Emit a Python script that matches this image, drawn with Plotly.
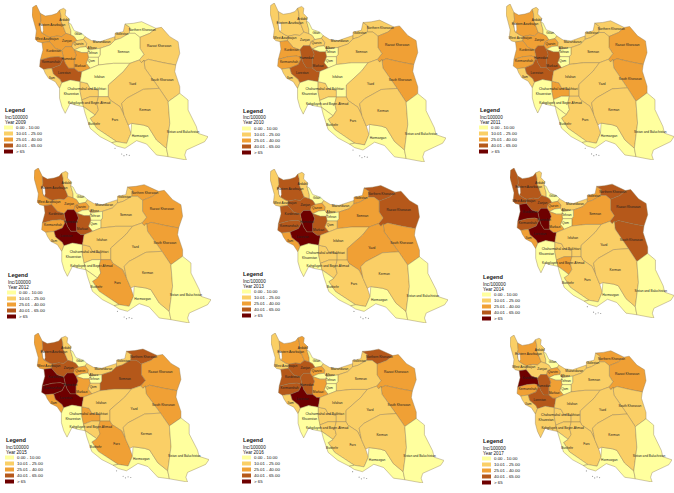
import plotly.graph_objects as go

W, H = 674, 493
YEARS = [2009, 2010, 2011, 2012, 2013, 2014, 2015, 2016, 2017]
BINS = [10, 25, 40, 65]
CLASS_LABELS = ["0.00 - 10.00", "10.01 - 25.00", "25.01 - 40.00", "40.01 - 65.00", "> 65"]
COLORS = ["#FFFF9E", "#FACF66", "#F0A035", "#B5581A", "#6E0000"]

PROVINCES = ["West Azarbaijan", "Eastern Azarbaijan", "Ardabil", "Gilan", "Zanjan", "Qazvin",
             "Mazandaran", "Golestan", "Northern Khorasan", "Razavi Khorasan", "South Khorasan",
             "Semnan", "Tehran", "Alborz", "Qom", "Markazi", "Hamedan", "Kurdestan", "Kermanshah",
             "Ilam", "Lorestan", "Khuzestan", "Chaharmahal and Bakhtiari",
             "Kohgiluyeh and Boyer-Ahmad", "Isfahan", "Yazd", "Fars", "Bushehr", "Hormozgan",
             "Kerman", "Sistan and Baluchistan"]

# estimated incidence per 100000, read from each province's colour class, same order as PROVINCES
inc_2009 = [32, 33, 20, 5, 30, 20, 20, 18, 8, 20, 18, 7, 4, 5, 6, 32, 34, 30, 50, 18, 52, 6, 20, 20, 7, 19, 18, 6, 5, 20, 3]
inc_2010 = [20, 22, 20, 6, 22, 20, 18, 18, 18, 32, 34, 18, 5, 6, 7, 45, 45, 30, 36, 18, 44, 6, 18, 8, 8, 18, 17, 6, 5, 18, 3]
inc_2011 = [22, 33, 20, 6, 32, 30, 18, 18, 18, 32, 34, 18, 5, 6, 7, 48, 55, 32, 30, 20, 55, 7, 30, 8, 18, 18, 17, 7, 5, 18, 3]
inc_2012 = [32, 50, 20, 6, 35, 30, 20, 20, 30, 35, 36, 20, 5, 6, 7, 50, 75, 50, 32, 20, 72, 7, 20, 8, 20, 20, 32, 7, 5, 20, 3]
inc_2013 = [22, 55, 22, 6, 50, 32, 20, 30, 50, 55, 35, 30, 5, 6, 15, 50, 80, 55, 50, 30, 78, 7, 20, 20, 20, 30, 20, 7, 5, 20, 3]
inc_2014 = [45, 55, 20, 6, 45, 32, 20, 30, 55, 60, 50, 30, 5, 6, 7, 35, 85, 70, 50, 30, 80, 7, 20, 30, 20, 20, 20, 7, 5, 20, 3]
inc_2015 = [35, 55, 20, 6, 50, 32, 20, 22, 55, 36, 36, 55, 5, 6, 18, 35, 90, 85, 80, 30, 82, 7, 32, 20, 20, 20, 35, 7, 5, 20, 3]
inc_2016 = [20, 32, 30, 6, 50, 32, 20, 20, 55, 35, 36, 20, 5, 6, 7, 33, 55, 55, 50, 20, 75, 7, 20, 20, 20, 20, 20, 7, 5, 20, 3]
inc_2017 = [20, 32, 20, 6, 22, 30, 18, 18, 30, 35, 20, 20, 5, 6, 7, 32, 55, 80, 32, 18, 50, 15, 20, 20, 20, 20, 20, 7, 5, 20, 3]
INC = [inc_2009, inc_2010, inc_2011, inc_2012, inc_2013, inc_2014, inc_2015, inc_2016, inc_2017]

# province outlines (map units), sketched from the reference
SHAPES = {
 "West Azarbaijan": [(97,22),(108,15),(120,40),(122,62),(118,72),(124,98),(140,108),(150,112),(148,125),(125,128),(112,125),(105,118),(108,92),(100,65),(95,45)],
 "Eastern Azarbaijan": [(120,40),(135,48),(155,45),(170,40),(178,30),(182,45),(183,65),(190,80),(197,100),(185,110),(170,108),(150,112),(140,108),(124,98),(118,72),(122,62)],
 "Ardabil": [(178,30),(190,25),(197,30),(195,45),(208,58),(205,68),(212,92),(212,105),(197,100),(190,80),(183,65),(182,45)],
 "Gilan": [(205,68),(212,72),(222,92),(245,100),(255,110),(250,118),(230,122),(222,110),(212,105),(212,92)],
 "Zanjan": [(150,112),(170,108),(185,110),(197,100),(212,105),(222,110),(230,122),(218,128),(215,140),(195,140),(185,152),(165,145),(148,125)],
 "Qazvin": [(218,128),(230,122),(250,118),(260,130),(258,140),(240,142),(222,150),(215,140)],
 "Mazandaran": [(250,118),(255,110),(275,122),(300,125),(345,110),(345,120),(330,135),(300,145),(265,150),(258,140),(260,130)],
 "Golestan": [(345,100),(370,95),(375,72),(390,82),(388,100),(362,115),(345,120),(345,110)],
 "Northern Khorasan": [(375,72),(400,70),(425,65),(468,85),(450,100),(420,112),(405,100),(388,100),(390,82)],
 "Razavi Khorasan": [(420,112),(450,100),(468,85),(485,82),(510,110),(535,125),(540,160),(528,195),(490,188),(445,178),(425,188),(418,180),(432,163),(420,145)],
 "South Khorasan": [(425,188),(445,178),(490,188),(528,195),(525,215),(540,260),(540,280),(505,305),(478,265),(460,240),(435,205),(432,180)],
 "Semnan": [(300,145),(330,135),(345,120),(362,115),(388,100),(405,100),(420,112),(420,145),(432,163),(418,180),(390,190),(340,190),(295,195),(295,172),(300,165)],
 "Tehran": [(265,150),(300,145),(300,165),(295,172),(265,172),(262,158)],
 "Alborz": [(240,142),(258,140),(265,150),(262,158),(245,158),(222,150)],
 "Qom": [(265,172),(295,172),(295,195),(270,205),(258,190)],
 "Markazi": [(222,150),(245,158),(262,158),(265,172),(258,190),(270,205),(245,215),(235,215),(222,205),(222,180),(228,165)],
 "Hamedan": [(185,152),(195,140),(215,140),(222,150),(228,165),(222,180),(222,205),(205,205),(195,190),(190,175)],
 "Kurdestan": [(125,128),(148,125),(165,145),(185,152),(190,175),(175,170),(150,172),(130,178),(120,180),(128,150)],
 "Kermanshah": [(120,180),(130,178),(150,172),(175,170),(190,175),(180,195),(155,205),(130,208),(118,200)],
 "Ilam": [(130,208),(155,205),(160,222),(180,238),(185,248),(178,265),(165,245),(145,235),(135,220)],
 "Lorestan": [(155,205),(180,195),(190,175),(195,190),(205,205),(222,205),(235,215),(245,215),(240,245),(210,240),(185,248),(180,238),(160,222)],
 "Isfahan": [(245,215),(270,205),(295,195),(340,190),(390,190),(370,215),(325,255),(325,290),(295,290),(295,270),(270,265),(262,250),(240,245)],
 "Yazd": [(390,190),(418,180),(425,188),(432,180),(435,205),(460,240),(478,265),(430,268),(380,295),(365,310),(372,345),(360,320),(330,300),(325,290),(325,255),(370,215)],
 "Kerman": [(380,295),(430,268),(478,265),(505,305),(510,370),(500,445),(470,420),(445,380),(430,375),(395,370),(385,375),(372,345),(365,310)],
 "Fars": [(295,290),(325,290),(330,300),(360,320),(372,345),(385,375),(393,400),(380,430),(350,425),(320,405),(290,385),(270,355),(285,345),(295,330),(290,310)],
 "Kohgiluyeh and Boyer-Ahmad": [(245,300),(270,290),(295,290),(290,310),(295,330),(285,345),(265,330),(250,320)],
 "Chaharmahal and Bakhtiari": [(240,245),(262,250),(270,265),(295,270),(295,290),(270,290),(245,300),(240,275)],
 "Khuzestan": [(178,265),(185,248),(210,240),(240,245),(240,275),(245,300),(250,320),(225,315),(210,310),(195,340),(185,320),(178,295)],
 "Bushehr": [(250,320),(265,330),(285,345),(270,355),(290,385),(320,405),(350,425),(335,428),(300,410),(270,385),(262,362),(255,340)],
 "Hormozgan": [(335,428),(350,425),(380,430),(393,400),(395,370),(430,375),(445,380),(470,420),(500,445),(505,470),(470,465),(440,432),(410,422),(375,445),(350,438)],
 "Sistan and Baluchistan": [(505,305),(540,280),(565,300),(565,330),(590,380),(595,400),(625,410),(615,425),(560,450),(555,465),(560,480),(505,470),(500,445),(510,370)],
}
LAKE = [(123,70),(128,74),(129,92),(126,100),(122,92),(120,76)]
ISLANDS_X = [365, 372, 380, 388, 345]
ISLANDS_Y = [462, 467, 464, 466, 445]

LABEL_POS = {
 "West Azarbaijan": (140,118), "Eastern Azarbaijan": (155,75), "Ardabil": (192,62), "Gilan": (234,102),
 "Zanjan": (200,124), "Qazvin": (235,134), "Mazandaran": (305,128), "Golestan": (366,103),
 "Northern Khorasan": (427,90), "Razavi Khorasan": (478,138), "South Khorasan": (487,240), "Semnan": (370,158),
 "Tehran": (278,160), "Alborz": (276,146), "Qom": (274,185), "Markazi": (240,200), "Hamedan": (205,177),
 "Kurdestan": (160,153), "Kermanshah": (152,187), "Ilam": (155,234), "Lorestan": (192,220), "Khuzestan": (213,283),
 "Chaharmahal and Bakhtiari": (260,268), "Kohgiluyeh and Boyer-Ahmad": (267,310), "Isfahan": (298,233),
 "Yazd": (398,253), "Fars": (345,362), "Bushehr": (282,372), "Hormozgan": (420,410), "Kerman": (435,332),
 "Sistan and Baluchistan": (550,398),
}

# map box (left, right, top, bottom px) and legend anchor (x, y px) per panel
BOXES = [(32,208,5,160),(270,446,3,162),(506,674,4,160),
         (34,211,168,323),(270,448,169,323),(510,674,168,318),
         (34,209,333,482),(271,444,333,483),(510,672,335,482)]
LEGENDS = [(4,110),(242,111),(479,110),(7,275),(242,274),(482,277),(5,440),(242,440),(482,441)]
X_RANGE = [95, 625]
Y_RANGE = [480, 15]
BORDER = "#8a7650"


def klass(v):
    return sum(v > b for b in BINS)


fig = go.Figure()
layout = dict(width=W, height=H, margin=dict(l=0, r=0, t=0, b=0), autosize=False,
              paper_bgcolor="white", plot_bgcolor="white", showlegend=False,
              hovermode=False, font=dict(family="Liberation Sans, Arial, sans-serif", color="#111"))
annotations, shapes = [], []

for i, (year, values, box, leg) in enumerate(zip(YEARS, INC, BOXES, LEGENDS)):
    n = "" if i == 0 else str(i + 1)
    xa, ya = "x" + n, "y" + n
    layout["xaxis" + n] = dict(domain=[box[0] / W, box[1] / W], range=X_RANGE, visible=False, fixedrange=True)
    layout["yaxis" + n] = dict(domain=[1 - box[3] / H, 1 - box[2] / H], range=Y_RANGE, visible=False, fixedrange=True)
    for name, v in zip(PROVINCES, values):
        pts = SHAPES[name] + [SHAPES[name][0]]
        fig.add_trace(go.Scatter(x=[p[0] for p in pts], y=[p[1] for p in pts], mode="lines", fill="toself",
                                 fillcolor=COLORS[klass(v)], line=dict(color=BORDER, width=0.4),
                                 xaxis=xa, yaxis=ya, hoverinfo="skip"))
    lk = LAKE + [LAKE[0]]
    fig.add_trace(go.Scatter(x=[p[0] for p in lk], y=[p[1] for p in lk], mode="lines", fill="toself",
                             fillcolor="white", line=dict(color=BORDER, width=0.3), xaxis=xa, yaxis=ya, hoverinfo="skip"))
    fig.add_trace(go.Scatter(x=ISLANDS_X, y=ISLANDS_Y, mode="markers", marker=dict(size=1.2, color="#999"),
                             xaxis=xa, yaxis=ya, hoverinfo="skip"))
    fig.add_trace(go.Scatter(x=[LABEL_POS[p][0] for p in PROVINCES], y=[LABEL_POS[p][1] for p in PROVINCES],
                             text=PROVINCES, mode="text", textfont=dict(size=3.2, color="#222"),
                             textposition="middle center", xaxis=xa, yaxis=ya, hoverinfo="skip"))

    lx, ly = leg
    for txt, dy, size, bold in [("Legend", 0, 5.6, True), ("Inc/100000", 7, 4.6, False), (f"Year {year}", 12, 4.6, False)]:
        annotations.append(dict(xref="paper", yref="paper", x=lx / W, y=1 - (ly + dy) / H, xanchor="left", yanchor="middle",
                                text=f"<b>{txt}</b>" if bold else txt, showarrow=False, font=dict(size=size, color="#111"),
                                xshift=-1))
    for k, (lab, col) in enumerate(zip(CLASS_LABELS, COLORS)):
        cy = ly + 17.5 + k * 6
        shapes.append(dict(type="rect", xref="paper", yref="paper", x0=lx / W, x1=(lx + 9) / W,
                           y0=1 - (cy + 2) / H, y1=1 - (cy - 2) / H, fillcolor=col, line=dict(width=0)))
        annotations.append(dict(xref="paper", yref="paper", x=(lx + 11) / W, y=1 - cy / H, xanchor="left", yanchor="middle",
                                text=lab, showarrow=False, font=dict(size=4.4, color="#111"), xshift=-1))

layout["annotations"] = annotations
layout["shapes"] = shapes
fig.update_layout(**layout)
fig.write_html("out.html", config={"displayModeBar": False}, post_script="document.body.style.margin='0';")
